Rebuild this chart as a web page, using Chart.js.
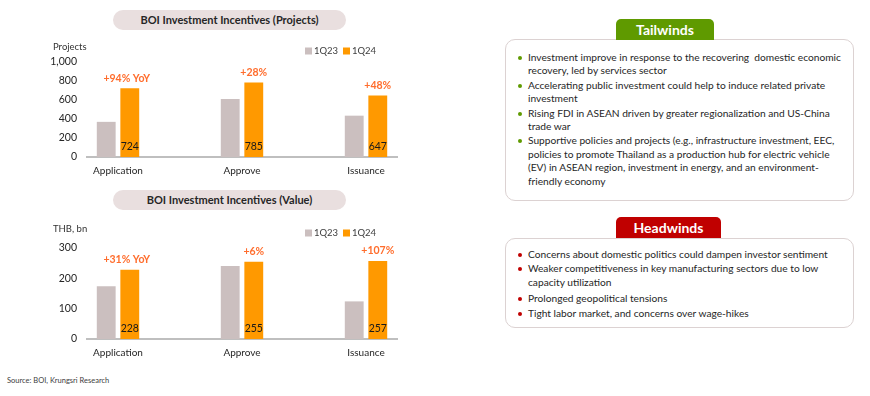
<!DOCTYPE html>
<html lang="en">
<head>
<meta charset="UTF-8">
<title>BOI Investment Incentives</title>
<script src="https://cdn.jsdelivr.net/npm/chart.js@4.4.1/dist/chart.umd.min.js"></script>
<style>
    body {
        margin: 0;
        width: 870px;
        height: 396px;
        background: #fff;
        font-family: Lato, "Open Sans", sans-serif;
        color: #262626;
        position: relative;
        overflow: hidden;
    }
    .pill {
        position: absolute;
        left: 113px;
        width: 233px;
        height: 20px;
        border-radius: 10px;
        background: #e9dfdf;
        font-weight: bold;
        font-size: 11px;
        line-height: 20px;
        text-align: center;
    }
    canvas { position: absolute; left: 0; }
    .box {
        position: absolute;
        left: 505px;
        width: 347px;
        border: 1.5px solid #dcd2d2;
        border-radius: 10px;
        background: #fff;
    }
    .tab {
        position: absolute;
        left: 616px;
        height: 21px;
        border-radius: 5px 5px 0 0;
        color: #fff;
        font-weight: bold;
        font-size: 14px;
        line-height: 22px;
        text-align: center;
    }
    ul {
        list-style: none;
        margin: 0;
        padding: 0;
        position: absolute;
        left: 22px;
        font-size: 10.2px;
        line-height: 13.4px;
        white-space: nowrap;
    }
    li { position: relative; }
    li::before {
        content: "";
        position: absolute;
        left: -10px;
        top: 5px;
        width: 4px;
        height: 4px;
        border-radius: 2px;
        background: var(--dot);
    }
    .source {
        position: absolute;
        left: 7px;
        top: 376px;
        font-size: 7.5px;
        color: #404040;
    }
</style>
</head>
<body>
    <div class="pill" style="top:10px">BOI Investment Incentives (Projects)</div>
    <canvas id="projects" width="440" height="155" style="top:30px"></canvas>

    <div class="pill" style="top:190px">BOI Investment Incentives (Value)</div>
    <canvas id="value" width="440" height="150" style="top:215px"></canvas>

    <div class="source">Source: BOI, Krungsri Research</div>

    <div class="box" style="top:39px; height:160px">
        <ul style="top:11px; --dot:#5f9a00">
            <li>Investment improve in response to the recovering&nbsp; domestic economic<br>recovery, led by services sector</li>
            <li style="margin-top:1px">Accelerating public investment could help to induce related private<br>investment</li>
            <li style="margin-top:1px">Rising FDI in ASEAN driven by greater regionalization and US-China<br>trade war</li>
            <li style="margin-top:1px">Supportive policies and projects (e.g., infrastructure investment, EEC,<br>policies to promote Thailand as a production hub for electric vehicle<br>(EV) in ASEAN region, investment in energy, and an environment-<br>friendly economy</li>
        </ul>
    </div>
    <div class="tab" style="top:19px; width:98px; background:#5f9a00">Tailwinds</div>

    <div class="box" style="top:238px; height:88px">
        <ul style="top:9px; --dot:#c00000">
            <li>Concerns about domestic politics could dampen investor sentiment</li>
            <li style="margin-top:1px">Weaker competitiveness in key manufacturing sectors due to low<br>capacity utilization</li>
            <li style="margin-top:3px">Prolonged geopolitical tensions</li>
            <li style="margin-top:1px">Tight labor market, and concerns over wage-hikes</li>
        </ul>
    </div>
    <div class="tab" style="top:217px; width:105px; background:#c00000">Headwinds</div>

    <script>
        // categories and series
        const categories = ['Application', 'Approve', 'Issuance'];
        const seriesNames = ['1Q23', '1Q24'];

        const projects1Q23 = [370, 610, 435];
        const projects1Q24 = [724, 785, 647];
        const projectsChange = ['+94% YoY', '+28%', '+48%'];
        const projectsTicks = [0, 200, 400, 600, 800, 1000];

        const value1Q23 = [174, 241, 124];
        const value1Q24 = [228, 255, 257];
        const valueChange = ['+31% YoY', '+6%', '+107%'];
        const valueTicks = [0, 100, 200, 300];

        const colors = ['#cbbfbf', '#ff9900'];
        const FONT = 'Lato, "Open Sans", sans-serif';

        // legend, unit label, value and change labels
        const decorations = {
            id: 'decorations',
            afterDatasetsDraw(chart, args, opts) {
                const ctx = chart.ctx;
                ctx.save();

                // unit label
                ctx.fillStyle = '#333';
                ctx.font = '9.5px ' + FONT;
                ctx.textAlign = 'left';
                ctx.textBaseline = 'middle';
                ctx.fillText(opts.unit, 53, opts.legendY - 4);

                // legend
                let x = 305;
                chart.data.datasets.forEach((ds, i) => {
                    ctx.fillStyle = ds.backgroundColor;
                    ctx.fillRect(x, opts.legendY - 3.5, 7, 7);
                    ctx.fillStyle = '#404040';
                    ctx.font = '9.5px ' + FONT;
                    ctx.fillText(ds.label, x + 9, opts.legendY);
                    x += 38;
                });

                // value labels inside the 1Q24 bars and change labels on top
                const meta = chart.getDatasetMeta(1);
                const data = chart.data.datasets[1].data;
                ctx.textAlign = 'center';
                meta.data.forEach((bar, i) => {
                    ctx.fillStyle = '#1a1a1a';
                    ctx.font = '10.5px ' + FONT;
                    ctx.fillText(data[i].y, bar.x, bar.base - 10);
                    ctx.fillStyle = '#ff6d2d';
                    ctx.font = 'bold 10.5px ' + FONT;
                    ctx.fillText(opts.changes[i], bar.x - (i === 0 ? 3 : 0), bar.y - 10);
                });
                ctx.restore();
            }
        };

        function makeChart(id, prev, curr, changes, ticks, unit, top, axisH, legendY) {
            const ctx = document.getElementById(id).getContext('2d');
            const toPoints = arr => arr.map((v, i) => ({ x: i, y: v }));
            return new Chart(ctx, {
                type: 'bar',
                data: {
                    datasets: [
                        { label: seriesNames[0], data: toPoints(prev), backgroundColor: colors[0] },
                        { label: seriesNames[1], data: toPoints(curr), backgroundColor: colors[1] }
                    ]
                },
                options: {
                    responsive: false,
                    animation: false,
                    layout: { padding: { top: top, right: 43, left: 0, bottom: 0 } },
                    categoryPercentage: 0.38,
                    barPercentage: 0.8,
                    plugins: {
                        legend: { display: false },
                        tooltip: { enabled: false },
                        decorations: { changes: changes, unit: unit, legendY: legendY }
                    },
                    scales: {
                        x: {
                            type: 'linear',
                            offset: false,
                            min: -0.25,
                            max: categories.length - 0.75,
                            grid: { display: false, drawTicks: false, offset: false },
                            border: { display: true, color: '#bfbfbf', width: 2 },
                            afterBuildTicks(axis) { axis.ticks = categories.map((c, i) => ({ value: i })); },
                            ticks: {
                                color: '#262626',
                                font: { family: FONT, size: 10 },
                                padding: 8,
                                callback: v => categories[v]
                            },
                            afterFit(axis) { axis.height = axisH; }
                        },
                        y: {
                            min: ticks[0],
                            max: ticks[ticks.length - 1],
                            grid: { display: false, drawTicks: false },
                            border: { display: false },
                            afterBuildTicks(axis) { axis.ticks = ticks.map(v => ({ value: v })); },
                            ticks: { color: '#262626', font: { family: FONT, size: 10.5 }, padding: 10 },
                            afterFit(axis) { axis.width = 87; }
                        }
                    }
                },
                plugins: [decorations]
            });
        }

        makeChart('projects', projects1Q23, projects1Q24, projectsChange, projectsTicks, 'Projects', 32, 28, 21);
        makeChart('value', value1Q23, value1Q24, valueChange, valueTicks, 'THB, bn', 33, 26, 18);
    </script>
</body>
</html>
